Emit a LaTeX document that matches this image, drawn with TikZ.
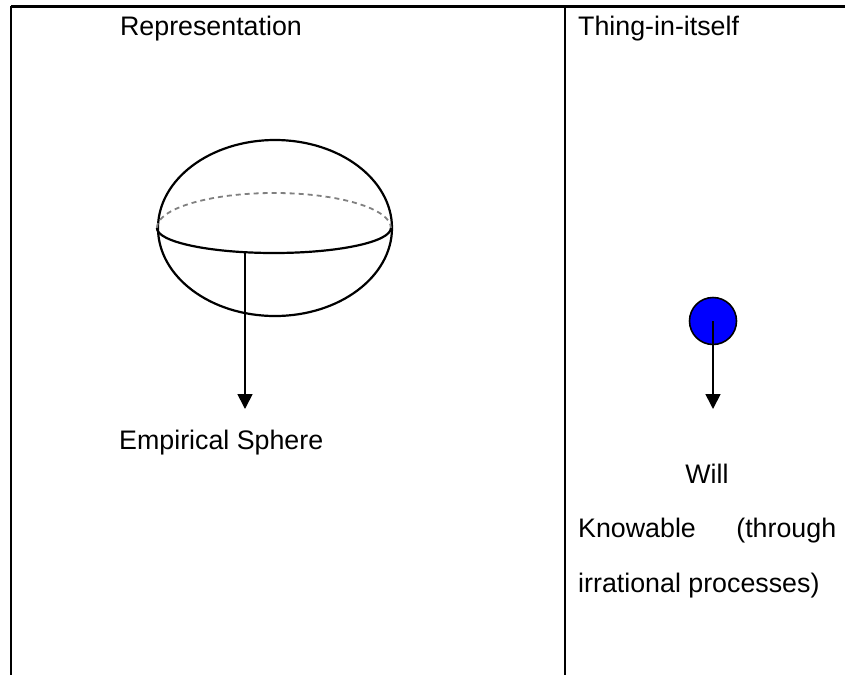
\documentclass[tikz,border=0pt]{standalone}
\usepackage{fontspec}
\setmainfont{Liberation Sans}
\usetikzlibrary{arrows.meta,shapes.geometric}
\begin{document}
\begin{tikzpicture}[x=1pt,y=-1pt,
  lbl/.style={inner sep=0pt, font=\fontsize{26.8}{30}\selectfont},
  frame/.style={line width=1.8pt},
  outl/.style={line width=2.2pt},
  arr/.style={line width=1.7pt, -{Triangle[width=15pt,length=15pt]}}]
\useasboundingbox (0,0) rectangle (845,675);
% frame
\coordinate (tl) at (11,6);
\coordinate (tr) at (845,6);
\coordinate (bl) at (11,675);
\coordinate (tm) at (565,6);
\coordinate (bm) at (565,675);
\draw[line width=3pt] (tl) -- (tr);
\draw[frame] (tl) -- (bl);
\draw[line width=2.4pt] (tm) -- (bm);
% headings
\node[lbl, anchor=base] (rep) at (211,35) {Representation};
\node[lbl, anchor=base west] (thing) at (578,35) {Thing-in-itself};
% sphere
\node[ellipse, draw, outl, minimum width=234pt, minimum height=176pt, inner sep=0pt] (sphere) at (275,228) {};
\draw[gray, dashed, line width=1.8pt, dash pattern=on 5pt off 4pt] (sphere.west) arc[start angle=180, end angle=0, x radius=117pt, y radius=35pt];
\draw[outl] (sphere.west) arc[start angle=180, end angle=360, x radius=117pt, y radius=25pt];
\coordinate (eq) at (245,253);
\coordinate (tipL) at (245,409);
\draw[arr] (eq) -- (tipL);
\node[lbl, anchor=base west] (emp) at (119,449) {Empirical Sphere};
% will
\node[circle, draw, fill=blue, line width=1.6pt, minimum size=47pt, inner sep=0pt] (ball) at (713,321) {};
\coordinate (tipR) at (713,409);
\draw[arr] (ball.center) -- (tipR);
\node[lbl, anchor=base] (will) at (707,483) {Will};
\node[lbl, anchor=base west, text width=258pt] (know) at (578,537) {Knowable\hfill(through};
\node[lbl, anchor=base west] (irr) at (578,592) {irrational processes)};
\end{tikzpicture}
\end{document}
